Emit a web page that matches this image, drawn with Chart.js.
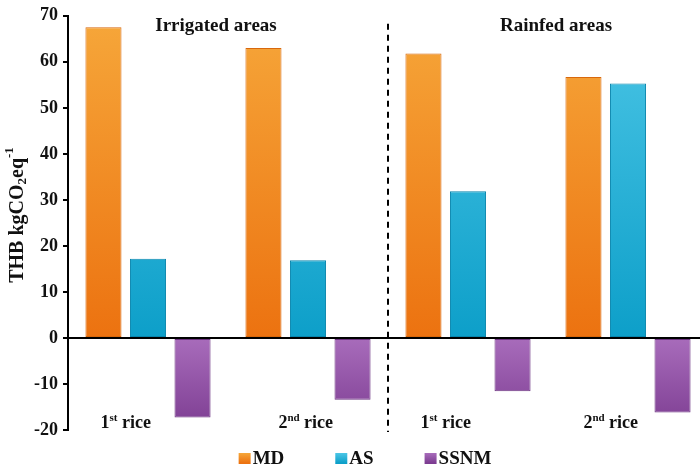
<!DOCTYPE html>
<html>
<head>
<meta charset="utf-8">
<script src="https://cdn.jsdelivr.net/npm/chart.js@4.4.1/dist/chart.umd.min.js"></script>
<style>
  html, body { margin: 0; padding: 0; background: #fff; overflow: hidden; }
  #wrap { position: relative; width: 716px; height: 468px; }
</style>
</head>
<body>
<div id="wrap"><canvas id="chart"></canvas></div>
<script>
// Values (THB, kgCO2eq per unit)
const categories = ["1st rice", "2nd rice", "1st rice", "2nd rice"];
const mdValues = [67.5, 63.0, 61.8, 56.7];
const asValues = [17.2, 16.9, 31.9, 55.3];
const ssnmValues = [-17.3, -13.4, -11.6, -16.2];
const seriesNames = ["MD", "AS", "SSNM"];
const areaLabels = ["Irrigated areas", "Rainfed areas"];
const yTicks = { min: -20, max: 70, step: 10 };

const SERIF = "'Liberation Serif', 'DejaVu Serif', serif";

// light -> dark shading per series
const SHADES = {
  MD: ["#f6a73a", "#ec7210", "#d8680c"],
  AS: ["#4cc6e6", "#0d9fc9", "#0a86ad"],
  SSNM: ["#a86cbb", "#7c3c91", "#6b3380"],
};

function barFill(name) {
  return (context) => {
    const chart = context.chart;
    const area = chart.chartArea;
    const shade = SHADES[name];
    if (!area) return shade[1];
    const y = chart.scales.y;
    const zero = y.getPixelForValue(0);
    let g;
    if (name === "SSNM") {
      g = chart.ctx.createLinearGradient(0, zero, 0, area.bottom);
    } else {
      g = chart.ctx.createLinearGradient(0, area.top, 0, zero);
    }
    g.addColorStop(0, shade[0]);
    g.addColorStop(1, shade[1]);
    return g;
  };
}

// split "1st rice" into number, suffix, rest
function splitOrdinal(label) {
  const m = label.match(/^(\d+)(st|nd|rd|th)(.*)$/);
  return m ? [m[1], m[2], m[3]] : [label, "", ""];
}

const LABEL_NUDGE = [0, 20, 0, 5];   // tweak: centre of text vs MD/AS midpoint

const decorations = {
  id: "decorations",
  afterDatasetsDraw(chart) {
    const { ctx, chartArea, scales } = chart;
    const x = scales.x, y = scales.y;
    const zero = y.getPixelForValue(0);
    ctx.save();

    // zero line
    ctx.strokeStyle = "#000";
    ctx.lineWidth = 2;
    ctx.beginPath();
    ctx.moveTo(chartArea.left, zero);
    ctx.lineTo(chartArea.right, zero);
    ctx.stroke();

    // dashed separator between irrigated and rainfed groups
    const sep = x.getPixelForValue(1.5);
    ctx.setLineDash([6, 5]);
    ctx.beginPath();
    ctx.moveTo(sep, chartArea.top + 8);
    ctx.lineTo(sep, chartArea.bottom + 2);
    ctx.stroke();
    ctx.setLineDash([]);

    // area titles
    ctx.fillStyle = "#111";
    ctx.font = "bold 19px " + SERIF;
    ctx.textAlign = "center";
    ctx.textBaseline = "middle";
    ctx.fillText(areaLabels[0], x.getPixelForValue(0.5) - 12, chartArea.top + 10);
    ctx.fillText(areaLabels[1], x.getPixelForValue(2.5) + 8, chartArea.top + 10);

    // category labels inside the plot, with superscript ordinals
    const mdMeta = chart.getDatasetMeta(0), asMeta = chart.getDatasetMeta(1);
    categories.forEach((label, i) => {
      const [num, sup, rest] = splitOrdinal(label);
      const cx = (mdMeta.data[i].x + asMeta.data[i].x) / 2 + LABEL_NUDGE[i];
      const cy = y.getPixelForValue(-18);
      ctx.textAlign = "left";
      ctx.textBaseline = "alphabetic";
      ctx.font = "bold 18px " + SERIF;
      const wNum = ctx.measureText(num).width;
      const wRest = ctx.measureText(rest).width;
      ctx.font = "bold 11px " + SERIF;
      const wSup = ctx.measureText(sup).width;
      let px = cx - (wNum + wSup + wRest) / 2;
      const base = cy + 7;
      ctx.font = "bold 18px " + SERIF;
      ctx.fillText(num, px, base);
      px += wNum;
      ctx.font = "bold 11px " + SERIF;
      ctx.fillText(sup, px, base - 7);
      px += wSup;
      ctx.font = "bold 18px " + SERIF;
      ctx.fillText(rest, px, base);
    });

    // y axis title: THB kgCO2eq-1 (rotated, with sub/superscript)
    ctx.translate(17, 215);
    ctx.rotate(-Math.PI / 2);
    const parts = [
      ["THB kgCO", 20, 0],
      ["2", 13, 5],
      ["eq", 20, 0],
      ["-1", 13, -8],
    ];
    let total = 0;
    parts.forEach(p => { ctx.font = "bold " + p[1] + "px " + SERIF; total += ctx.measureText(p[0]).width; });
    let tx = -total / 2;
    ctx.textAlign = "left";
    ctx.textBaseline = "middle";
    parts.forEach(p => {
      ctx.font = "bold " + p[1] + "px " + SERIF;
      ctx.fillText(p[0], tx, p[2] + 1);
      tx += ctx.measureText(p[0]).width;
    });
    ctx.restore();

    // legend
    ctx.save();
    ctx.font = "bold 19px " + SERIF;
    ctx.textBaseline = "middle";
    ctx.textAlign = "left";
    const gap = 51, box = 12;
    let widths = chart.data.datasets.map(ds => box + 2 + ctx.measureText(ds.label).width);
    let span = widths.reduce((a, b) => a + b, 0) + gap * (widths.length - 1);
    let lx = 238;
    lx = chart.width / 2 + 7 - span / 2;
    const ly = chartArea.bottom + 28;
    chart.data.datasets.forEach((ds, i) => {
      const shade = SHADES[ds.label];
      const g = ctx.createLinearGradient(0, ly - 5, 0, ly + 5);
      g.addColorStop(0, shade[0]);
      g.addColorStop(1, shade[1]);
      ctx.fillStyle = g;
      ctx.fillRect(lx, ly - 5, box, 11);
      ctx.fillStyle = "#111";
      ctx.fillText(ds.label, lx + box + 2, ly + 1);
      lx += widths[i] + gap;
    });
    ctx.restore();
  },
};

const seriesValues = [mdValues, asValues, ssnmValues];

new Chart(document.getElementById("chart"), {
  type: "bar",
  data: {
    labels: categories,
    datasets: seriesNames.map((name, i) => ({
      label: name,
      data: seriesValues[i],
      backgroundColor: barFill(name),
      borderColor: SHADES[name][2],
      borderWidth: 1,
      borderSkipped: false,
      barPercentage: 0.81,
      categoryPercentage: 0.835,
    })),
  },
  options: {
    responsive: true,
    maintainAspectRatio: false,
    animation: false,
    layout: { padding: { top: 15, right: 8, bottom: 38, left: 0 } },
    plugins: {
      legend: { display: false },
      tooltip: { enabled: false },
    },
    scales: {
      x: {
        display: false,
      },
      y: {
        min: yTicks.min,
        max: yTicks.max,
        afterFit: (scale) => { scale.width = 68; },
        border: { display: true, color: "#000", width: 2 },
        grid: {
          drawOnChartArea: false,
          drawTicks: true,
          tickLength: 5,
          color: "#000",
          lineWidth: 2,
        },
        ticks: {
          stepSize: yTicks.step,
          color: "#111",
          padding: 5,
          font: { family: SERIF, size: 18, weight: "bold" },
        },
      },
    },
  },
  plugins: [decorations],
});
</script>
</body>
</html>
